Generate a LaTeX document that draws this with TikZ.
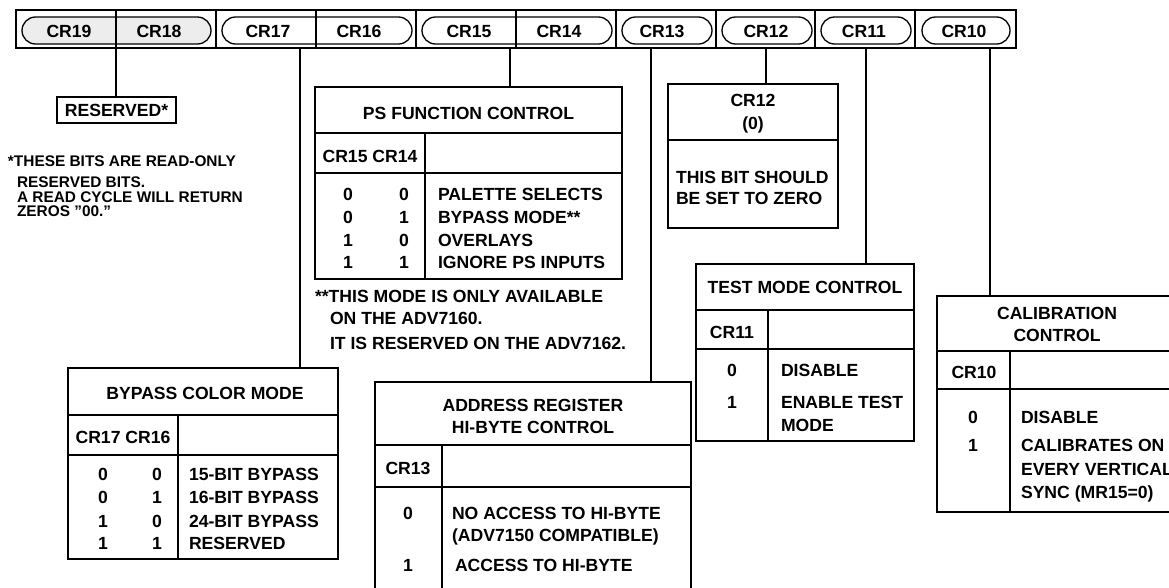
\documentclass[tikz,border=0pt]{standalone}
\usepackage{fontspec}
\setmainfont{Liberation Sans}
\begin{document}
\begin{tikzpicture}[x=1pt,y=-1pt,
  every node/.style={inner sep=0pt, outer sep=0pt},
  tx/.style={font=\bfseries\fontsize{17.6}{21}\selectfont, text height=12.6pt, text depth=0pt},
  txw/.style={tx, anchor=west},
  fn/.style={font=\bfseries\fontsize{15.4}{18}\selectfont, text height=11pt, text depth=0pt, anchor=west},
  boxs/.style={draw, line width=1.8pt, anchor=north west},
  inl/.style={line width=1.3pt},
  conn/.style={line width=1.6pt},
  pill/.style={draw, line width=1.3pt, rounded corners=13.5pt, minimum height=27pt},
]
\useasboundingbox (0,0) rectangle (1169,587);

% ---------------- register bar ----------------
\node[draw, line width=2.2pt, anchor=north west, minimum width=1000pt, minimum height=38pt] (bar) at (16,10) {};
\node[pill, fill=black!7, minimum width=189pt] (p1918) at (116.5,30.5) {};
\node[pill, minimum width=190pt] (p1716) at (317,30.5) {};
\node[pill, minimum width=190pt] (p1514) at (517,30.5) {};
\node[pill, minimum width=90pt] (p13) at (667,30.5) {};
\node[pill, minimum width=90pt] (p12) at (767,30.5) {};
\node[pill, minimum width=90pt] (p11) at (866,30.5) {};
\node[pill, minimum width=88pt] (p10) at (966,30.5) {};
\foreach \x in {116,216,316,416,516,616,716,815,915}
  \draw[line width=1.5pt] (\x,10) -- (\x,48);
\node[tx] (l19) at (69,31) {CR19};
\node[tx] (l18) at (159,31) {CR18};
\node[tx] (l17) at (268,31) {CR17};
\node[tx] (l16) at (359,31) {CR16};
\node[tx] (l15) at (469,31) {CR15};
\node[tx] (l14) at (559,31) {CR14};
\node[tx] (l13) at (662,31) {CR13};
\node[tx] (l12) at (766,31) {CR12};
\node[tx] (l11) at (864,31) {CR11};
\node[tx] (l10) at (964,31) {CR10};

% connector start points on the bar
\coordinate (c18) at (116,48);
\coordinate (c16) at (300,48);
\coordinate (c14) at (510,48);
\coordinate (c13) at (651,48);
\coordinate (c12) at (766,48);
\coordinate (c11) at (866,48);
\coordinate (c10) at (990,48);

% ---------------- reserved ----------------
\node[draw, line width=1.6pt, minimum width=119pt, minimum height=26pt] (res) at (116.5,110) {};
\node[tx] (rest) at (116.5,110) {RESERVED*};
\draw[conn] (c18) -- (c18 |- res.north);
\node[fn] (f1a) at (8,161) {*THESE BITS ARE READ-ONLY};
\node[fn] (f1b) at (17,182) {RESERVED BITS.};
\node[fn] (f1c) at (17,197) {A READ CYCLE WILL RETURN};
\node[fn] (f1d) at (17,211) {ZEROS \symbol{34}00.\symbol{34}};

% ---------------- PS function control ----------------
\node[boxs, minimum width=307pt, minimum height=192pt] (ps) at (315,87) {};
\draw[conn] (c14) -- (c14 |- ps.north);
\draw[inl] (315,133) -- (622,133);
\draw[inl] (315,173) -- (622,173);
\draw[inl] (425,133) -- (425,279);
\node[tx] (pst) at (468.5,113) {PS FUNCTION CONTROL};
\node[tx] (psh) at (370,156) {CR15 CR14};
\foreach \y/\a/\b/\t [count=\i] in {194/0/0/PALETTE SELECTS,217/0/1/BYPASS MODE**,240/1/0/OVERLAYS,262/1/1/IGNORE PS INPUTS}{
  \node[tx] (psa\i) at (348,\y) {\a};
  \node[tx] (psb\i) at (404,\y) {\b};
  \node[txw] (psd\i) at (438,\y) {\t};
}
\node[txw] (f2a) at (315,296) {**THIS MODE IS ONLY AVAILABLE};
\node[txw] (f2b) at (330,318) {ON THE ADV7160.};
\node[txw] (f2c) at (330,343) {IT IS RESERVED ON THE ADV7162.};

% ---------------- CR12 ----------------
\node[boxs, minimum width=170pt, minimum height=144pt] (b12) at (668,84) {};
\draw[conn] (c12) -- (c12 |- b12.north);
\draw[inl] (668,140) -- (838,140);
\node[tx] (b12a) at (753,100) {CR12};
\node[tx] (b12b) at (753,123) {(0)};
\node[txw] (b12c) at (676,177) {THIS BIT SHOULD};
\node[txw] (b12d) at (676,198) {BE SET TO ZERO};

% ---------------- test mode ----------------
\node[boxs, minimum width=218pt, minimum height=177pt] (tm) at (696,264) {};
\draw[conn] (c11) -- (c11 |- tm.north);
\draw[inl] (696,310) -- (914,310);
\draw[inl] (696,349) -- (914,349);
\draw[inl] (768,310) -- (768,441);
\node[tx] (tmt) at (805,287) {TEST MODE CONTROL};
\node[tx] (tmh) at (732,332) {CR11};
\node[tx] (tm0) at (732,370) {0};
\node[txw] (tm0d) at (781,370) {DISABLE};
\node[tx] (tm1) at (732,402) {1};
\node[txw] (tm1d) at (781,402) {ENABLE TEST};
\node[txw] (tm1e) at (781,425) {MODE};

% ---------------- calibration ----------------
\node[boxs, minimum width=240pt, minimum height=216pt] (cal) at (937,296) {};
\draw[conn] (c10) -- (c10 |- cal.north);
\draw[inl] (937,351) -- (1177,351);
\draw[inl] (937,389) -- (1177,389);
\draw[inl] (1010,351) -- (1010,512);
\node[tx] (calt1) at (1057,313) {CALIBRATION};
\node[tx] (calt2) at (1057,335) {CONTROL};
\node[tx] (calh) at (974,372) {CR10};
\node[tx] (cal0) at (973,417) {0};
\node[txw] (cal0d) at (1021,417) {DISABLE};
\node[tx] (cal1) at (973,445) {1};
\node[txw] (cal1d) at (1021,445) {CALIBRATES ON};
\node[txw] (cal1e) at (1021,469) {EVERY VERTICAL};
\node[txw] (cal1f) at (1021,492) {SYNC (MR15=0)};

% ---------------- bypass color mode ----------------
\node[boxs, minimum width=270pt, minimum height=191pt] (bp) at (68,368) {};
\draw[conn] (c16) -- (c16 |- bp.north);
\draw[inl] (68,415) -- (338,415);
\draw[inl] (68,455) -- (338,455);
\draw[inl] (178,415) -- (178,559);
\node[tx] (bpt) at (205,393) {BYPASS COLOR MODE};
\node[tx] (bph) at (123,437) {CR17 CR16};
\foreach \y/\a/\b/\t [count=\i] in {474/0/0/15-BIT BYPASS,497/0/1/16-BIT BYPASS,521/1/0/24-BIT BYPASS,543/1/1/RESERVED}{
  \node[tx] (bpa\i) at (103,\y) {\a};
  \node[tx] (bpb\i) at (157,\y) {\b};
  \node[txw] (bpd\i) at (189,\y) {\t};
}

% ---------------- address register ----------------
\node[boxs, minimum width=316pt, minimum height=220pt] (ad) at (375,382) {};
\draw[conn] (c13) -- (c13 |- ad.north);
\draw[inl] (375,445) -- (691,445);
\draw[inl] (375,487) -- (691,487);
\draw[inl] (442,445) -- (442,602);
\node[tx] (adt1) at (533,405) {ADDRESS REGISTER};
\node[tx] (adt2) at (533,427) {HI-BYTE CONTROL};
\node[tx] (adh) at (408,468) {CR13};
\node[tx] (ad0) at (408,513) {0};
\node[txw] (ad0d) at (452,513) {NO ACCESS TO HI-BYTE};
\node[txw] (ad0e) at (452,535) {(ADV7150 COMPATIBLE)};
\node[tx] (ad1) at (408,565) {1};
\node[txw] (ad1d) at (455,565) {ACCESS TO HI-BYTE};
\end{tikzpicture}
\end{document}
